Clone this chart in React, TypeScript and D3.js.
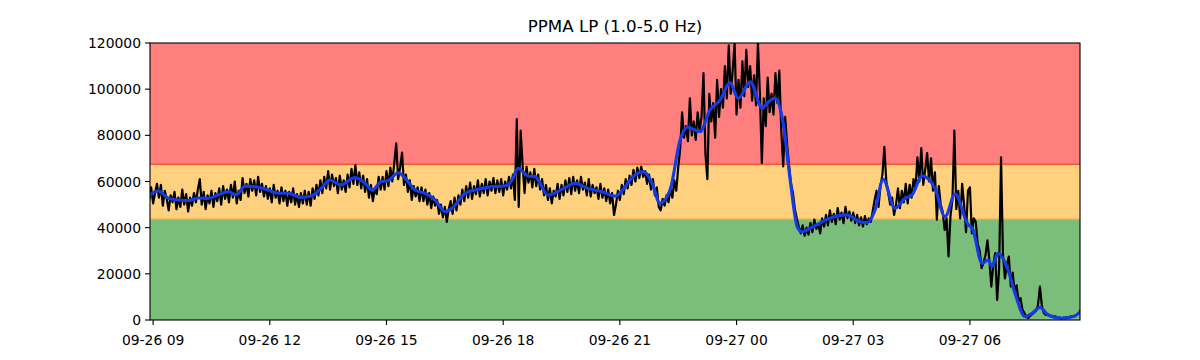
import React from 'react'
import * as d3 from 'd3'

// chart geometry (figure is 1200x360, axes box in px)
const W = 1200
const H = 360
const M = { left: 150, right: 1080, top: 43, bottom: 320 }

const title = 'PPMA LP (1.0-5.0 Hz)'

// time is kept as hours after 09-26 00:00 (so 24 = 09-27 00)
const xDomainHours = [8.92, 32.83]
const xTickHours = [9, 12, 15, 18, 21, 24, 27, 30]
const yTicks = [0, 20000, 40000, 60000, 80000, 100000, 120000]

// alert levels (bands behind the data)
const levelGreenTop = 43600
const levelOrangeTop = 67500
const yMax = 120000

// raw amplitude, one value every 0.05 h starting at 8.9 h (one row = one hour)
const rawStartHour = 8.9
const rawStepHour = 0.05
const rawValues = [
  52000, 57500, 50500, 55000, 59000, 53000, 58500, 49500, 56000, 52500, 47500, 54000, 51000, 55500, 48000, 53000, 49000, 56500, 50000, 54500,
  47000, 53000, 49500, 55000, 51000, 56500, 61000, 50000, 55500, 48000, 54000, 50500, 56000, 49000, 55000, 51500, 57000, 50000, 58000, 52500,
  56500, 51000, 58500, 53000, 60000, 50500, 56000, 52000, 61500, 55000, 59000, 53500, 61000, 56000, 60500, 54000, 62000, 55500, 59000, 53500,
  58000, 52500, 57000, 51000, 58500, 53000, 56000, 50500, 57500, 51500, 56000, 49500, 55500, 51000, 57000, 50000, 54500, 49000, 55000, 50500,
  56000, 50000, 55500, 49500, 57000, 52500, 58500, 54000, 60500, 55000, 62000, 57000, 64500, 56500, 63000, 58000, 61500, 55000, 62500, 56500,
  60500, 55500, 63000, 57500, 65500, 59000, 67000, 58500, 64000, 57000, 62500, 55500, 61000, 53000, 58500, 51500, 57000, 54500, 62000, 56500,
  62000, 56500, 64500, 58000, 66000, 60000, 68000, 76500, 61000, 66000, 72500, 58500, 63000, 55500, 60500, 52000, 58000, 53500, 57500, 51500,
  57500, 51500, 56500, 50000, 55000, 48500, 53500, 49500, 52000, 46000, 50000, 44500, 49000, 42500, 48000, 51500, 46000, 53000, 47500, 54000,
  50000, 56500, 51500, 58000, 53000, 59500, 52500, 58000, 54500, 60500, 53500, 59000, 55000, 61000, 54000, 60000, 56000, 61500, 55000, 60500,
  55500, 61000, 54000, 60000, 56500, 62000, 57000, 63000, 52000, 87000, 49000, 82000, 67000, 55000, 66500, 59500, 64000, 57500, 65500, 58000,
  63000, 56500, 61000, 54000, 58500, 52000, 57000, 50500, 56000, 53500, 59000, 52500, 58500, 54000, 60500, 55500, 61500, 54500, 62000, 56000,
  60500, 55000, 62000, 56500, 59500, 54000, 61000, 53500, 58500, 55000, 57500, 52500, 59000, 53000, 57000, 51500, 56500, 50500, 55000, 45500,
  50000, 56000, 52000, 58500, 54500, 61000, 57000, 62500, 58500, 65000, 60000, 66000, 61500, 66500, 62000, 64500, 59000, 63000, 56500, 61000,
  54000, 57500, 49000, 47500, 52500, 49500, 54000, 51000, 57000, 53000, 60500, 56000, 66000, 74000, 90000, 79000, 84000, 77500, 96000, 80000,
  86000, 78000, 90000, 82000, 88000, 107000, 72000, 61000, 98000, 86000, 94000, 79000, 104000, 88000, 100000, 92000, 110000, 96000, 119000, 98000,
  108000, 120000, 89000, 104000, 92000, 112000, 97000, 117000, 101000, 110000, 95000, 106000, 93000, 120000, 98000, 68000, 96000, 84000, 105000, 90000,
  98000, 89000, 107000, 94000, 108000, 82000, 66500, 88000, 76000, 67000, 59000, 55000, 48000, 44000, 40500, 37500, 41000, 36500, 40000, 37000,
  42000, 38000, 43500, 39500, 41500, 37500, 44000, 40500, 45500, 41000, 47500, 42500, 46000, 41500, 48500, 43500, 46500, 42000, 49000, 44000,
  47000, 43000, 46500, 42000, 45500, 41000, 44500, 40500, 45000, 41500, 44000, 42500, 47000, 52000, 56000, 49000, 58000, 63000, 75000, 60000,
  55000, 50000, 53000, 45500, 50000, 57000, 48500, 56000, 51000, 59000, 50500, 58500, 53000, 61000, 57000, 70500, 60000, 74500, 58500, 65000,
  72300, 60000, 70000, 56000, 64000, 43500, 58000, 50000, 47000, 39000, 44000, 27500, 45000, 52000, 82000, 48000, 56000, 44000, 59000, 50000,
  38000, 56000, 57500, 37500, 44000, 42500, 33000, 30000, 22500, 25000, 28000, 34500, 26000, 14500, 24000, 29000, 8700, 22000, 70500, 28000,
  18000, 24000, 27500, 14500, 20500, 12000, 15000, 8000, 9500, 4500, 3000, 1500, 800, 1800, 2500, 3200, 4000, 6500, 14500, 6000,
  3000, 2200, 2600, 1800, 1500, 1200, 1600, 900, 1100, 700, 1000, 800, 1300, 1100, 1600, 1400, 1900, 2200, 3000, 4500,
]

// smoothed curve, read at irregular hours
const smoothHours = [
  8.92, 9.13, 9.39, 9.64, 9.9, 10.16, 10.41, 10.67, 10.93, 11.13,
  11.37, 11.7, 11.96, 12.21, 12.47, 12.8, 13.06, 13.32, 13.55, 13.83,
  14.19, 14.45, 14.63, 14.86, 15.04, 15.3, 15.48, 15.74, 15.99, 16.25,
  16.51, 16.69, 17.02, 17.35, 17.71, 18.05, 18.23, 18.38, 18.64, 18.82,
  19.15, 19.51, 19.85, 20.18, 20.54, 20.88, 21.13, 21.26, 21.6, 21.83,
  22.03, 22.29, 22.55, 22.73, 23.06, 23.32, 23.58, 23.83, 24.04, 24.35,
  24.66, 24.78, 24.99, 25.2, 25.38, 25.56, 25.68, 25.97, 26.4, 26.84,
  27.17, 27.35, 27.56, 27.77, 28.07, 28.33, 28.51, 28.77, 29.1, 29.36,
  29.62, 29.93, 30.08, 30.31, 30.47, 30.57, 30.72, 30.98, 31.16, 31.42,
  31.6, 31.8, 32.01, 32.37, 32.7, 32.83,
]
const smoothValues = [
  54150, 55900, 52700, 52000, 51700, 52850, 52700, 54150, 55600, 54150,
  58000, 57500, 56300, 54900, 54900, 53150, 53700, 57000, 60650, 58500,
  61650, 59200, 56300, 59900, 60350, 63800, 61400, 56300, 54900, 52000,
  46900, 48400, 54900, 56600, 57750, 58050, 60650, 65700, 62400, 62100,
  54150, 56600, 59200, 57000, 55600, 53700, 57500, 60650, 64250, 59200,
  50550, 56300, 78000, 83500, 81600, 91000, 95300, 102800, 96000, 103200,
  91700, 93900, 96000, 85200, 60650, 40400, 38250, 40400, 44050, 45500,
  42600, 42150, 47650, 60950, 48400, 52700, 54150, 62400, 57050, 44750,
  54600, 41900, 39000, 24550, 26000, 23100, 28900, 21650, 11550, 1450,
  2900, 5500, 2150, 750, 1700, 3600,
]

const base = new Date(2023, 8, 26, 0, 0, 0).getTime()
const toDate = (h: number) => new Date(base + h * 3600 * 1000)

const font = '"DejaVu Sans", sans-serif'

export default function App() {
  const x = d3
    .scaleTime()
    .domain(xDomainHours.map(toDate))
    .range([M.left, M.right])
  const y = d3.scaleLinear().domain([0, yMax]).range([M.bottom, M.top])
  const fmt = d3.timeFormat('%m-%d %H')

  const rawLine = d3
    .line<number>()
    .x((_, i) => x(toDate(rawStartHour + i * rawStepHour)))
    .y((d) => y(d))

  const smoothLine = d3
    .line<number>()
    .x((_, i) => x(toDate(smoothHours[i])))
    .y((d) => y(d))
    .curve(d3.curveMonotoneX)

  const pw = M.right - M.left

  return (
    <svg
      width={W}
      height={H}
      style={{ position: 'absolute', left: 0, top: 0, background: '#fff' }}
      fontFamily={font}
    >
      <defs>
        <clipPath id="plot">
          <rect x={M.left} y={M.top} width={pw} height={M.bottom - M.top} />
        </clipPath>
      </defs>

      {/* alert bands */}
      <rect x={M.left} y={y(yMax)} width={pw} height={y(levelOrangeTop) - y(yMax)} fill="#ff7f7f" />
      <rect x={M.left} y={y(levelOrangeTop)} width={pw} height={y(levelGreenTop) - y(levelOrangeTop)} fill="#ffd17f" />
      <rect x={M.left} y={y(levelGreenTop)} width={pw} height={y(0) - y(levelGreenTop)} fill="#7bbd7b" />
      <line x1={M.left} x2={M.right} y1={y(levelOrangeTop)} y2={y(levelOrangeTop)} stroke="#ef5a2c" strokeWidth={1.5} />
      <line x1={M.left} x2={M.right} y1={y(levelGreenTop)} y2={y(levelGreenTop)} stroke="#eeae3a" strokeWidth={1.5} />

      <g clipPath="url(#plot)">
        <path d={rawLine(rawValues) ?? ''} fill="none" stroke="#000" strokeWidth={2.2} strokeLinejoin="round" />
        <path d={smoothLine(smoothValues) ?? ''} fill="none" stroke="#143ce6" strokeWidth={3.2} strokeLinejoin="round" strokeLinecap="round" />
      </g>

      {/* frame */}
      <rect x={M.left} y={M.top} width={pw} height={M.bottom - M.top} fill="none" stroke="#000" strokeWidth={1.1} />

      {/* y axis */}
      {yTicks.map((t) => (
        <g key={`y-${t}`}>
          <line x1={M.left - 5} x2={M.left} y1={y(t)} y2={y(t)} stroke="#000" strokeWidth={1.1} />
          <text x={M.left - 9} y={y(t)} dy="0.36em" textAnchor="end" fontSize={13.9} fill="#000">
            {t}
          </text>
        </g>
      ))}

      {/* x axis */}
      {xTickHours.map((h) => (
        <g key={`x-${h}`}>
          <line x1={x(toDate(h))} x2={x(toDate(h))} y1={M.bottom} y2={M.bottom + 5} stroke="#000" strokeWidth={1.1} />
          <text x={x(toDate(h))} y={M.bottom + 25} textAnchor="middle" fontSize={13.9} fill="#000">
            {fmt(toDate(h))}
          </text>
        </g>
      ))}

      <text x={(M.left + M.right) / 2} y={32} textAnchor="middle" fontSize={16.7} fill="#000">
        {title}
      </text>
    </svg>
  )
}
